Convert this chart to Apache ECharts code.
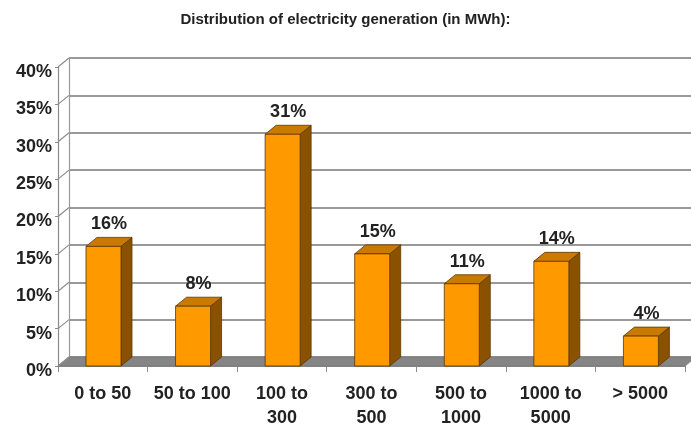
<!DOCTYPE html>
<html>
<head>
<meta charset="utf-8">
<script src="https://cdn.jsdelivr.net/npm/echarts@6/dist/echarts.min.js"></script>
<style>
  html, body { margin: 0; padding: 0; background: #ffffff; }
  #chart { width: 691px; height: 432px; }
</style>
</head>
<body>
<div id="chart"></div>
<script>
// Size classes of generation and their share of the total
const categories = ['0 to 50', '50 to 100', '100 to\n300', '300 to\n500', '500 to\n1000', '1000 to\n5000', '> 5000'];
const shares = [16, 8, 31, 15, 11, 14, 4];
const valueTicks = [0, 5, 10, 15, 20, 25, 30, 35, 40];

// Depth offset between the front plane and the back wall (pixels)
const DX = 11, DY = -9;
const BAR_W = 35;
const FONT = '"Liberation Sans", Arial, sans-serif';

const chart = echarts.init(document.getElementById('chart'), null, { renderer: 'canvas' });

function renderBar(params, api) {
  const cat = api.value(0);
  const v = api.value(1);
  const base = api.coord([cat, 0]);
  const top = api.coord([cat, v]);
  const x0 = base[0] - BAR_W / 2 + 0.7;
  const x1 = x0 + BAR_W;
  const yt = top[1], yb = base[1];
  const edge = { stroke: '#5c3600', lineWidth: 0.8 };
  return {
    type: 'group',
    children: [
      { type: 'polygon', shape: { points: [[x1, yt], [x1 + DX, yt + DY], [x1 + DX, yb + DY], [x1, yb]] },
        style: Object.assign({ fill: '#8a5200' }, edge) },
      { type: 'polygon', shape: { points: [[x0, yt], [x1, yt], [x1 + DX, yt + DY], [x0 + DX, yt + DY]] },
        style: Object.assign({ fill: '#c97a00' }, edge) },
      { type: 'rect', shape: { x: x0, y: yt, width: BAR_W, height: yb - yt },
        style: Object.assign({ fill: '#ff9900' }, edge) },
      { type: 'text', x: x0 + BAR_W / 2 + DX / 2, y: yt + DY - 4,
        style: { text: v + '%', font: 'bold 18px ' + FONT, fill: '#222', align: 'center', verticalAlign: 'bottom' } }
    ]
  };
}

function renderFloor(params, api) {
  const cs = params.coordSys;
  const y0 = api.coord([0, 0])[1];
  const xl = cs.x, xr = cs.x + cs.width;
  return {
    type: 'polygon',
    shape: { points: [[xl, y0], [xr, y0], [xr + DX, y0 + DY], [xl + DX, y0 + DY]] },
    style: { fill: '#858585', stroke: '#777', lineWidth: 0.8 }
  };
}

// Slanted tick joining the front value axis to the back wall, with its label
function renderValueTick(params, api) {
  const cs = params.coordSys;
  const t = api.value(0);
  const y = api.coord([0, t])[1];
  return {
    type: 'group',
    children: [
      { type: 'line', shape: { x1: cs.x, y1: y, x2: cs.x + DX, y2: y + DY },
        style: { stroke: '#8c8c8c', lineWidth: 1.2 } },
      { type: 'text', x: cs.x - 6, y: y + 5,
        style: { text: t + '%', font: 'bold 18px ' + FONT, fill: '#222', align: 'right', verticalAlign: 'middle' } }
    ]
  };
}

const option = {
  backgroundColor: '#ffffff',
  animation: false,
  title: {
    text: 'Distribution of electricity generation (in MWh):',
    left: 'center', top: 7,
    textStyle: { fontFamily: FONT, fontSize: 15, fontWeight: 'bold', color: '#222' }
  },
  grid: [
    { left: 58, right: 6, top: 67, bottom: 66 },
    { left: 69, right: -5, top: 58, bottom: 75 }
  ],
  xAxis: [
    {
      type: 'category', gridIndex: 0, data: categories,
      axisLine: { show: true, lineStyle: { color: '#8a8a8a', width: 1 } },
      axisTick: { show: true, interval: 0, length: 6, lineStyle: { color: '#8a8a8a' } },
      axisLabel: { interval: 0, margin: 16, fontFamily: FONT, fontSize: 18, fontWeight: 'bold', color: '#222', lineHeight: 24 }
    },
    { type: 'category', gridIndex: 1, data: categories, show: false }
  ],
  yAxis: [
    {
      type: 'value', gridIndex: 0, min: 0, max: 40, interval: 5,
      axisLine: { show: true, lineStyle: { color: '#8a8a8a', width: 1.2 } },
      axisTick: { show: true, length: 3, lineStyle: { color: '#8a8a8a' } },
      splitLine: { show: false },
      axisLabel: { show: false }
    },
    {
      type: 'value', gridIndex: 1, min: 0, max: 40, interval: 5,
      axisLine: { show: true, lineStyle: { color: '#9a9a9a', width: 1.2 } },
      axisTick: { show: false },
      axisLabel: { show: false },
      splitLine: { show: true, lineStyle: { color: '#999999', width: 2 } }
    }
  ],
  series: [
    {
      type: 'custom', xAxisIndex: 0, yAxisIndex: 0, z: 1,
      renderItem: renderFloor, data: [[0]], silent: true
    },
    {
      type: 'custom', xAxisIndex: 0, yAxisIndex: 0, z: 1,
      renderItem: renderValueTick, data: valueTicks.map(t => [t]), silent: true
    },
    {
      type: 'custom', xAxisIndex: 0, yAxisIndex: 0, z: 3,
      renderItem: renderBar,
      encode: { x: 0, y: 1 },
      data: shares.map((s, i) => [i, s])
    }
  ]
};

chart.setOption(option);
</script>
</body>
</html>
